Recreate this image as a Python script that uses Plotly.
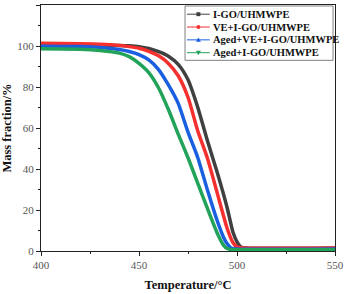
import plotly.graph_objects as go

temps_black = [400, 420, 430, 440, 445, 450, 455, 460, 465, 470, 475, 480, 485, 490, 495, 498, 500, 502, 505, 550]
mass_black = [100.7, 100.6, 100.5, 100.3, 100.1, 99.7, 98.8, 97.2, 95.0, 91.0, 83.5, 70.0, 53.5, 38.0, 21.0, 9.0, 4.5, 2.0, 1.5, 1.5]

temps_red = [400, 420, 430, 440, 445, 450, 455, 460, 465, 470, 475, 480, 485, 490, 495, 498, 500, 503, 550]
mass_red = [101.3, 101.1, 100.9, 100.3, 99.7, 98.9, 97.4, 95.2, 91.5, 85.5, 75.0, 58.5, 45.0, 28.0, 11.0, 4.0, 2.0, 1.5, 1.5]

temps_blue = [400, 420, 430, 440, 445, 450, 455, 460, 465, 470, 475, 480, 485, 490, 493, 495, 497, 500, 550]
mass_blue = [99.9, 99.7, 99.3, 98.3, 97.3, 95.8, 93.2, 88.5, 81.0, 72.0, 58.0, 45.5, 29.5, 14.5, 7.0, 3.5, 1.5, 1.0, 1.0]

temps_green = [400, 420, 430, 440, 445, 450, 455, 460, 465, 470, 475, 480, 485, 490, 493, 495, 497, 500, 550]
mass_green = [98.6, 98.4, 97.8, 96.5, 94.8, 91.5, 87.0, 79.5, 69.0, 57.0, 45.5, 33.0, 20.5, 8.5, 3.0, 1.2, 0.7, 0.6, 0.6]

names = ["I-GO/UHMWPE", "VE+I-GO/UHMWPE", "Aged+VE+I-GO/UHMWPE", "Aged+I-GO/UHMWPE"]
colors = ["#404040", "#f5302f", "#1a5fe0", "#22a35a"]
symbols = ["square", "circle", "triangle-up", "triangle-down"]
series = [(temps_black, mass_black), (temps_red, mass_red), (temps_blue, mass_blue), (temps_green, mass_green)]

W, H = 348, 294
ML, MR, MT, MB = 41, 10, 4, 41
PW, PH = W - ML - MR, H - MT - MB


def px2x(px):
    return (px - ML) / PW


def py2y(py):
    return (H - MB - py) / PH


fig = go.Figure()
for (t, m), c, n in zip(series, colors, names):
    fig.add_trace(go.Scatter(x=t, y=m, mode="lines", name=n,
                             line=dict(color=c, width=3.5, shape="spline", smoothing=0.6),
                             showlegend=False, hoverinfo="skip"))

serif = "Liberation Serif, Times New Roman, serif"

# custom compact legend (box, sample lines, markers, labels)
shapes = []
annotations = []
box_l, box_r, box_t, box_b = 186.5, 336.0, 5.0, 60.0
shapes.append(dict(type="rect", xref="paper", yref="paper",
                   x0=px2x(box_l), x1=px2x(box_r), y0=py2y(box_b), y1=py2y(box_t),
                   line=dict(color="#808080", width=1), fillcolor="white", layer="above"))
row_y = [13.3, 26.3, 39.3, 52.3]
for ry, n, c, s in zip(row_y, names, colors, symbols):
    shapes.append(dict(type="line", xref="paper", yref="paper",
                       x0=px2x(188.5), x1=px2x(211.5), y0=py2y(ry), y1=py2y(ry),
                       line=dict(color=c, width=1), layer="above"))
    mx, r = 200.0, 2.0
    if s == "square":
        shapes.append(dict(type="rect", xref="paper", yref="paper",
                           x0=px2x(mx - r), x1=px2x(mx + r), y0=py2y(ry + r), y1=py2y(ry - r),
                           fillcolor=c, line=dict(width=0), layer="above"))
    elif s == "circle":
        shapes.append(dict(type="circle", xref="paper", yref="paper",
                           x0=px2x(mx - r), x1=px2x(mx + r), y0=py2y(ry + r), y1=py2y(ry - r),
                           fillcolor=c, line=dict(width=0), layer="above"))
    else:
        if s == "triangle-up":
            pts = [(mx - 2.5, ry + 2), (mx + 2.5, ry + 2), (mx, ry - 2.5)]
        else:
            pts = [(mx - 2.5, ry - 2), (mx + 2.5, ry - 2), (mx, ry + 2.5)]
        path = "M " + " L ".join(f"{px2x(a):.5f},{py2y(b):.5f}" for a, b in pts) + " Z"
        shapes.append(dict(type="path", xref="paper", yref="paper", path=path,
                           fillcolor=c, line=dict(width=0), layer="above"))
    annotations.append(dict(xref="paper", yref="paper", x=px2x(213.0), y=py2y(ry),
                            xanchor="left", yanchor="middle", showarrow=False, text=n,
                            font=dict(family=serif, size=10.5, color="#111", weight="bold")))

fig.update_layout(
    width=W, height=H,
    margin=dict(l=ML, r=MR, t=MT, b=MB),
    paper_bgcolor="white", plot_bgcolor="white",
    font=dict(family=serif, size=11, color="#555"),
    showlegend=False,
    shapes=shapes, annotations=annotations,
)
axis_common = dict(showgrid=False, zeroline=False, showline=True, linecolor="#222", linewidth=1,
                   mirror=True, ticks="outside", ticklen=4, tickcolor="#222",
                   tickfont=dict(family=serif, size=11, color="#555"))
fig.update_xaxes(range=[400, 550], tickvals=[400, 450, 500, 550],
                 minor=dict(ticks="outside", ticklen=2, tickvals=[425, 475, 525], tickcolor="#222"),
                 title=dict(text="Temperature/°C", font=dict(family=serif, size=12.5, color="#111", weight="bold"), standoff=10),
                 **axis_common)
fig.update_yaxes(range=[0, 120], tickvals=[0, 20, 40, 60, 80, 100, 120],
                 minor=dict(ticks="outside", ticklen=2, tickvals=[10, 30, 50, 70, 90, 110], tickcolor="#222"),
                 title=dict(text="Mass fraction/%", font=dict(family=serif, size=12.5, color="#111", weight="bold"), standoff=4),
                 **axis_common)

fig.write_html("out.html", config={"displayModeBar": False, "staticPlot": True},
               post_script="document.body.style.margin='0';document.body.style.padding='0';")
